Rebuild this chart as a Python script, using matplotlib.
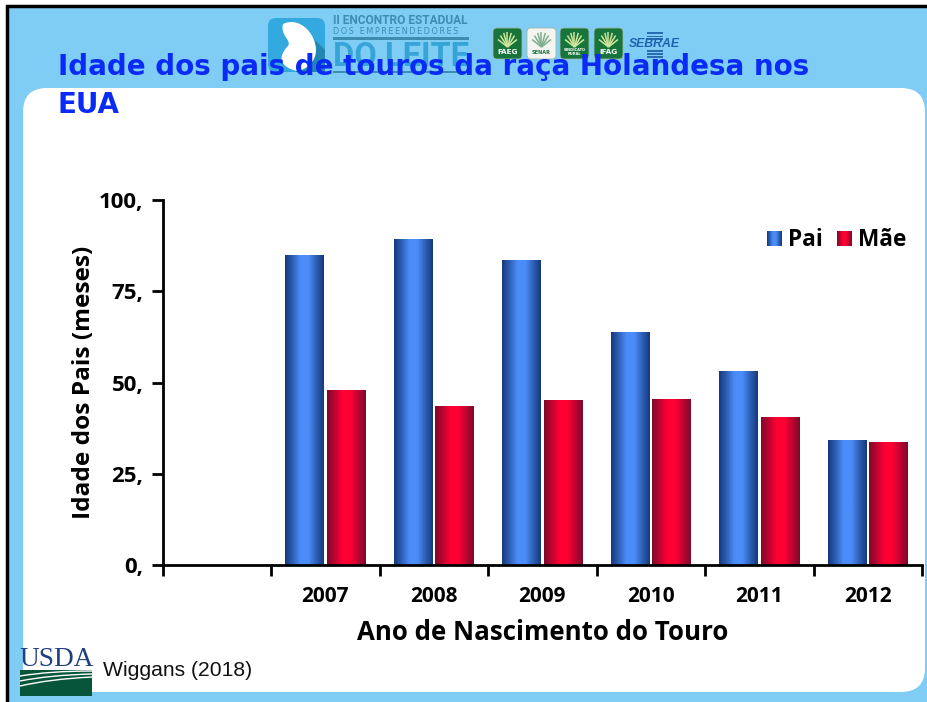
import numpy as np
import matplotlib
matplotlib.use("Agg")
import matplotlib.pyplot as plt
from matplotlib.patches import Rectangle, FancyBboxPatch, PathPatch, Polygon
from matplotlib.path import Path

years = ["", "2007", "2008", "2009", "2010", "2011", "2012"]
pai = [np.nan, 84.9, 89.3, 83.5, 63.8, 53.1, 34.2]
mae = [np.nan, 47.9, 43.3, 45.2, 45.3, 40.5, 33.6]
yticks = [0, 25, 50, 75, 100]
ytick_labels = ["0,", "25,", "50,", "75,", "100,"]
legend_labels = ["Pai", "Mãe"]

title_text = "Idade dos pais de touros da raça Holandesa nos\nEUA"
xlabel_text = "Ano de Nascimento do Touro"
ylabel_text = "Idade dos Pais (meses)"
source_text = "Wiggans (2018)"

SKY = "#7FCDF5"
BLUE_GRAD = ["#16397F", "#2F62B8", "#4B8DF8", "#4B8DF8", "#2F62B8", "#16397F"]
RED_GRAD = ["#7E0A2A", "#C00430", "#FF0033", "#FF0033", "#C00430", "#7E0A2A"]
W, H = 928, 702


def gradient(colors):
    cmap = matplotlib.colors.LinearSegmentedColormap.from_list("g", colors)
    return cmap(np.linspace(0, 1, 64))[np.newaxis, :, :]


fig = plt.figure(figsize=(W / 100, H / 100), dpi=100, facecolor="white")

# page furniture is drawn in pixel coordinates
bg = fig.add_axes([0, 0, 1, 1], zorder=0)
bg.set_xlim(0, W)
bg.set_ylim(H, 0)
bg.axis("off")

bg.add_patch(Rectangle((7, 6), W, H, fc=SKY, ec="black", lw=2.5))
bg.add_patch(FancyBboxPatch((47, 112), 854, 556, boxstyle="round,pad=24,rounding_size=24",
                            fc="white", ec="none"))

# event logo
bg.add_patch(FancyBboxPatch((274, 24), 45, 42, boxstyle="round,pad=6,rounding_size=8",
                            fc="#33A9DF", ec="none"))
bg.add_patch(Polygon([(305, 30), (325, 50), (325, 72), (296, 72)], fc="#2288B2", ec="none"))
drop = Path([(283, 24), (300, 16), (316, 34), (316, 50), (316, 62), (306, 70), (297, 71),
             (282, 68), (276, 58), (288, 46), (292, 40), (280, 36), (283, 24)],
            [Path.MOVETO] + [Path.CURVE4] * 12)
bg.add_patch(PathPatch(drop, fc="white", ec="none"))
bg.text(333, 20, "II ENCONTRO ESTADUAL", fontsize=8.6, fontweight="bold", color="#3C8DB0",
        family="Roboto", va="center", ha="left")
bg.text(333, 31, "\u2009".join("DOS EMPREENDEDORES"), fontsize=5.9, color="#3C8DB0",
        family="DejaVu Sans", va="center", ha="left")
bg.add_patch(Rectangle((333, 37), 136, 3, fc="#3C8DB0", ec="none"))
bg.text(333, 57, "DO LEITE", fontsize=23.5, fontweight="bold", color="#35A5D8",
        family="Roboto", va="center", ha="left")
bg.add_patch(Rectangle((333, 71), 136, 2, fc="#3C8DB0", ec="none"))

# partner badges
badges = [(493, "#17743B", "FAEG", 5.2), (527, "#F4F4F0", "SENAR", 3.6),
          (560, "#17743B", "SINDICATO\nRURAL", 2.6), (594, "#17743B", "IFAG", 5.2)]
for bx, col, name, fs in badges:
    txt = "#17743B" if col != "#17743B" else "white"
    fan_col = "#CFE59A" if col == "#17743B" else "#7FAF8F"
    bg.add_patch(FancyBboxPatch((bx + 3, 31), 23, 25, boxstyle="round,pad=3,rounding_size=4",
                                fc=col, ec="#9DB8A5", lw=0.6))
    for ang in np.radians([30, 50, 70, 90, 110, 130, 150]):
        bg.plot([bx + 14.5, bx + 14.5 + 11 * np.cos(ang)], [47, 47 - 15 * np.sin(ang)],
                color=fan_col, lw=1.1, solid_capstyle="butt")
    bg.text(bx + 14.5, 52, name, fontsize=fs, fontweight="bold", color=txt, ha="center", va="center",
            linespacing=0.9)
for sy in [32, 35.5, 38, 50, 53, 56]:
    bg.add_patch(Rectangle((647, sy), 16, 1.8, fc="#2B6CB0", ec="none"))
bg.text(629, 44, "SEBRAE", fontsize=8.8, fontweight="bold", style="italic", color="#1F62B0",
        family="Liberation Sans", va="center", ha="left")

bg.text(58, 86, title_text, fontsize=20, fontweight="bold", color="#0A2BF5",
        family="DejaVu Sans", va="center", ha="left", linespacing=1.43, zorder=5)

# USDA logo
bg.text(19, 659, "USDA", fontsize=19.6, color="#1F3F7F", family="Liberation Serif",
        va="center", ha="left")
bg.add_patch(Rectangle((20, 670), 72, 26, fc="#07553A", ec="none"))
for y0, y1, y2 in [(676, 671, 671), (681, 675, 674), (686, 679, 677)]:
    swoosh = Path([(20, y0), (50, y1), (92, y2)], [Path.MOVETO, Path.CURVE3, Path.CURVE3])
    bg.add_patch(PathPatch(swoosh, fc="none", ec="white", lw=1.0))
bg.text(103, 670, source_text, fontsize=15.2, color="#111111", family="Liberation Sans",
        va="center", ha="left")

# chart
ax = fig.add_axes([162.7 / W, 1 - 565 / H, (922 - 162.7) / W, 365 / H], zorder=1)
ax.patch.set_alpha(0)
x = np.arange(len(years))
bar_w = 0.358
off = 0.192
bars_pai = ax.bar(x - off, pai, bar_w, color="#4B8DF8")
bars_mae = ax.bar(x + off, mae, bar_w, color="#FF0033")

ax.set_xlim(-0.5, len(years) - 0.5)
ax.set_ylim(0, 100)

for bars, grad in [(bars_pai, BLUE_GRAD), (bars_mae, RED_GRAD)]:
    for b in bars:
        if np.isnan(b.get_height()):
            continue
        ax.imshow(gradient(grad), aspect="auto", zorder=2, interpolation="bilinear",
                  extent=[b.get_x(), b.get_x() + b.get_width(), 0, b.get_height()])
ax.set_xlim(-0.5, len(years) - 0.5)
ax.set_ylim(0, 100)

for s in ["top", "right"]:
    ax.spines[s].set_visible(False)
for s in ["left", "bottom"]:
    ax.spines[s].set_linewidth(2)

ax.set_yticks(yticks)
ax.set_yticklabels(ytick_labels, fontsize=16, fontweight="bold", family="Open Sans")
ax.tick_params(axis="y", length=8, width=2, pad=6)
ax.set_xticks(np.arange(len(years) + 1) - 0.5)
ax.set_xticklabels([])
ax.tick_params(axis="x", which="major", length=8, width=2)
ax.set_xticks(x, minor=True)
ax.set_xticklabels(years, minor=True, fontsize=15, fontweight="bold", family="Open Sans")
ax.tick_params(axis="x", which="minor", length=0, pad=15)
ax.set_xlabel(xlabel_text, fontsize=18.6, fontweight="bold", family="Open Sans", labelpad=9)
ax.set_ylabel(ylabel_text, fontsize=17.6, fontweight="bold", family="Open Sans", labelpad=2)

# legend with the same shaded swatches as the bars
for lx, label, grad in [(767, legend_labels[0], BLUE_GRAD), (837, legend_labels[1], RED_GRAD)]:
    bg.imshow(gradient(grad), aspect="auto", extent=[lx, lx + 15, 246, 231], zorder=3)
    bg.text(lx + 21, 239.5, label, fontsize=16.3, fontweight="bold", family="Open Sans",
            va="center", ha="left", zorder=3)
bg.set_xlim(0, W)
bg.set_ylim(H, 0)

plt.savefig("out.png", dpi=100)
